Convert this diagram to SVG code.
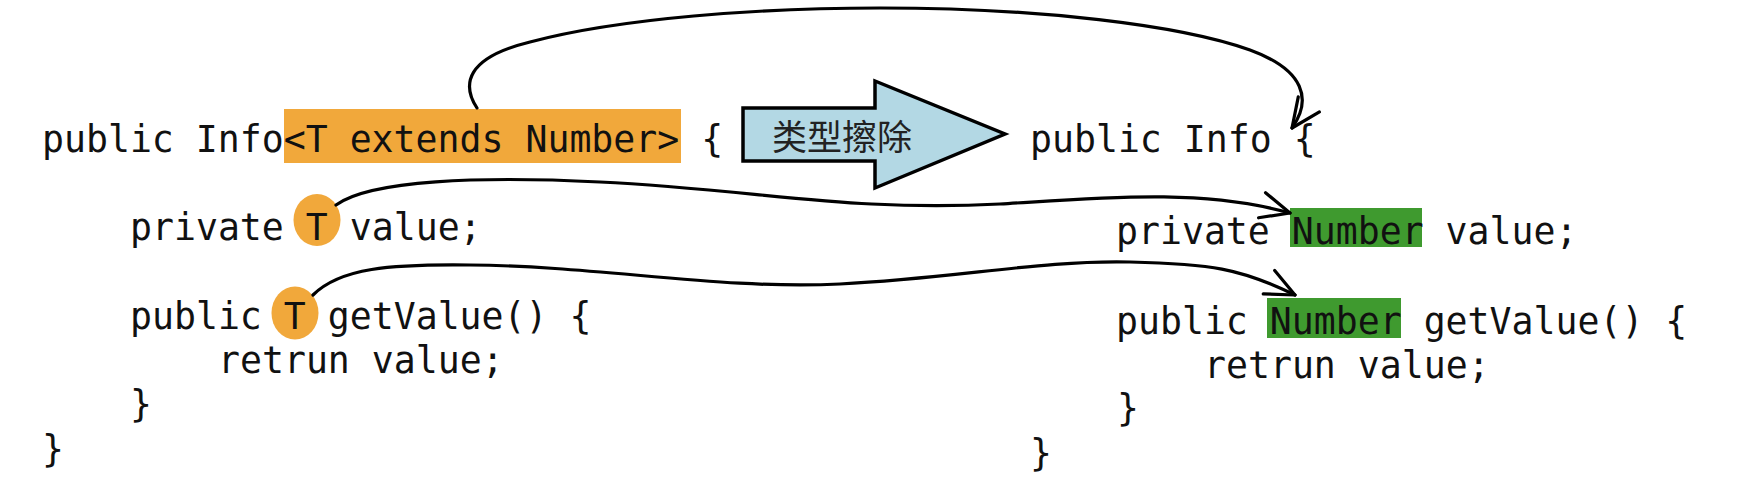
<svg xmlns="http://www.w3.org/2000/svg" width="1744" height="496" viewBox="0 0 1744 496">
  <style>
    .code { font-family: "DejaVu Sans Mono", "Liberation Mono", monospace; font-size: 36.5px; fill: #111; }
    .cjk { font-family: "Noto Sans CJK SC", "Noto Sans", sans-serif; font-size: 35px; fill: #222; }
    .orange { fill: #f1a83b; }
    .green { fill: #3f9a2f; }
    .conn { fill: none; stroke: #000; stroke-width: 3.2; stroke-linecap: round; stroke-linejoin: round; }
  </style>
  <defs>
    <marker id="open" markerUnits="userSpaceOnUse" markerWidth="44" markerHeight="44" viewBox="-36 -22 44 44" refX="0" refY="0" orient="auto">
      <path d="M-29,-13 L0,0 L-29,13" fill="none" stroke="#000" stroke-width="3.2" stroke-linecap="round" stroke-linejoin="round"/>
    </marker>
  </defs>
  <rect width="1744" height="496" fill="#fff"/>

  <g id="left-code">
    <rect class="orange" x="284" y="109" width="397" height="54"/>
    <ellipse class="orange" cx="317" cy="220" rx="23.5" ry="26"/>
    <ellipse class="orange" cx="295" cy="313" rx="23.5" ry="26.5"/>
    <text class="code" x="42" y="152" xml:space="preserve">public Info&lt;T extends Number&gt; {</text>
    <text class="code" x="130" y="240" xml:space="preserve">private T value;</text>
    <text class="code" x="130" y="329" xml:space="preserve">public T getValue() {</text>
    <text class="code" x="218" y="373" xml:space="preserve">retrun value;</text>
    <text class="code" x="130" y="417">}</text>
    <text class="code" x="42" y="462">}</text>
  </g>

  <g id="erase-arrow">
    <path d="M743,108 L875,108 L875,81 L1005,134 L875,188 L875,161 L743,161 Z" fill="#b3d8e4" stroke="#000" stroke-width="3.5" stroke-linejoin="miter"/>
    <text class="cjk" x="842" y="150" text-anchor="middle">类型擦除</text>
  </g>

  <g id="right-code">
    <rect class="green" x="1290" y="208" width="132" height="39"/>
    <rect class="green" x="1267" y="298" width="134" height="40"/>
    <text class="code" x="1030" y="152" xml:space="preserve">public Info {</text>
    <text class="code" x="1116" y="244" xml:space="preserve">private Number value;</text>
    <text class="code" x="1116" y="334" xml:space="preserve">public Number getValue() {</text>
    <text class="code" x="1204" y="378" xml:space="preserve">retrun value;</text>
    <text class="code" x="1117" y="421">}</text>
    <text class="code" x="1030" y="466">}</text>
  </g>

  <g id="connectors">
    <path class="conn" marker-end="url(#open)" d="M477,108 C462,85 465,58 530,42 C620,18 760,8 880,8 C1040,8 1180,25 1250,50 C1305,70 1312,100 1292,128"/>
    <path class="conn" marker-end="url(#open)" d="M336,205 C370,180 480,176 600,182 C760,190 850,212 1000,204 C1100,198 1200,188 1290,213"/>
    <path class="conn" marker-end="url(#open)" d="M313,295 C340,268 390,264 470,265 C600,266 720,290 840,284 C960,278 1040,260 1130,262 C1210,264 1240,268 1295,295"/>
  </g>
</svg>
